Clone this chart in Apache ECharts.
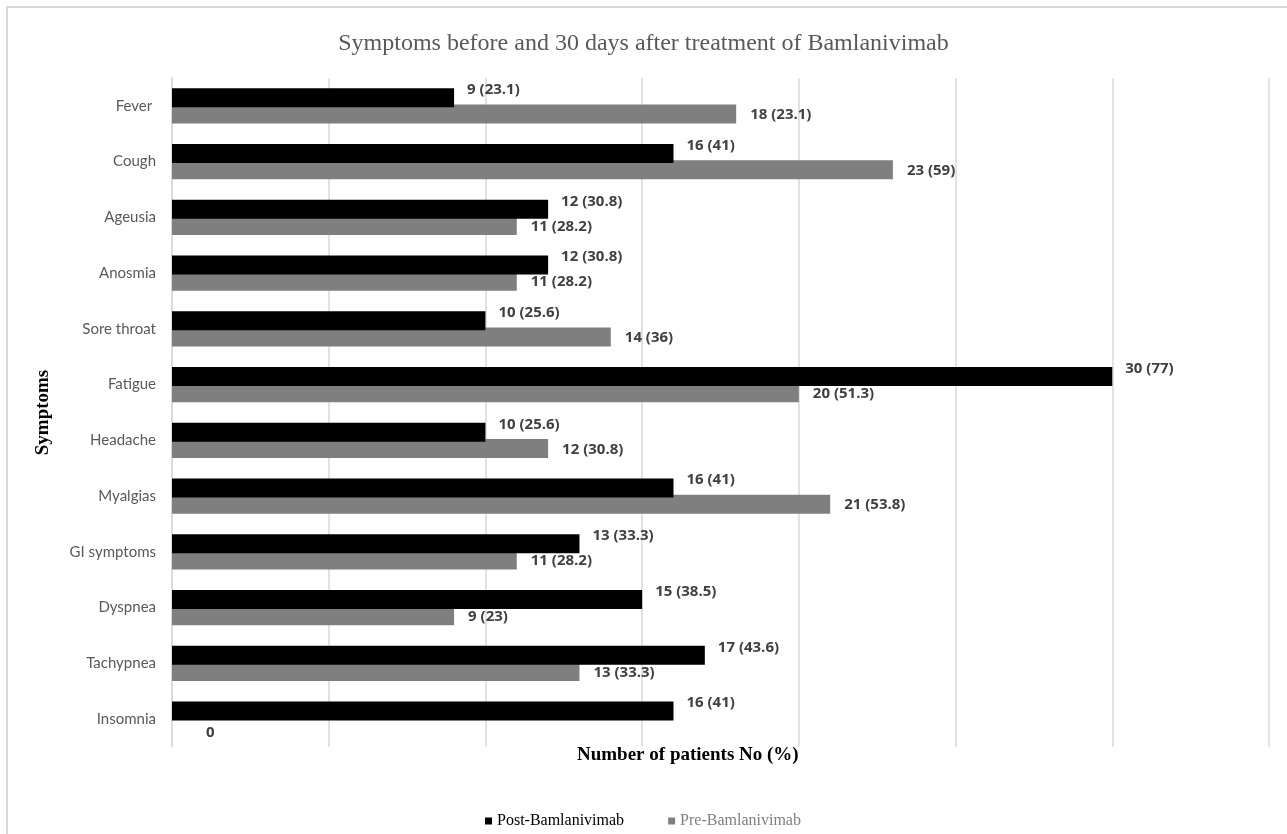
<!DOCTYPE html>
<html>
<head>
<meta charset="utf-8">
<style>
  html, body { margin: 0; padding: 0; background: #ffffff; }
  #chart { width: 1287px; height: 834px; }
</style>
<script src="https://cdn.jsdelivr.net/npm/echarts@6/dist/echarts.min.js"></script>
</head>
<body>
<div id="chart"></div>
<script>
// Symptom categories, top to bottom
const symptoms = ['Fever ', 'Cough', 'Ageusia', 'Anosmia', 'Sore throat', 'Fatigue',
  'Headache', 'Myalgias', 'GI symptoms', 'Dyspnea', 'Tachypnea', 'Insomnia'];

// Patient counts and percentages per group
const postCount = [9, 16, 12, 12, 10, 30, 10, 16, 13, 15, 17, 16];
const postPct = ['23.1', '41', '30.8', '30.8', '25.6', '77', '25.6', '41', '33.3', '38.5', '43.6', '41'];
const preCount = [18, 23, 11, 11, 14, 20, 12, 21, 11, 9, 13, 0];
const prePct = ['23.1', '59', '28.2', '28.2', '36', '51.3', '30.8', '53.8', '28.2', '23', '33.3', null];

// Axis range and tick step
const xMin = 0, xMax = 35, xStep = 5;

function labelText(counts, pcts) {
  return function (p) {
    const pct = pcts[p.dataIndex];
    return pct === null ? String(counts[p.dataIndex]) : counts[p.dataIndex] + ' (' + pct + ')';
  };
}

// A zero-length bar gets its label nudged clear of the axis line
function withZeroLabel(values) {
  return values.map(function (v) {
    return v === 0 ? { value: v, label: { offset: [20, 6] } } : v;
  });
}

const chart = echarts.init(document.getElementById('chart'));

const labelFont = {
  fontFamily: 'Open Sans', fontWeight: 'bold', fontSize: 15, color: '#404040'
};

chart.setOption({
  animation: false,
  backgroundColor: '#ffffff',
  title: [
    {
      text: 'Symptoms before and 30 days after treatment of Bamlanivimab',
      left: 'center', top: 27,
      textStyle: { fontFamily: 'Liberation Serif', fontWeight: 'normal', fontSize: 24, color: '#595959' }
    },
    {
      text: 'Number of patients No (%)',
      left: 572, top: 741,
      textStyle: { fontFamily: 'Liberation Serif', fontWeight: 'bold', fontSize: 19, color: '#000000' }
    }
  ],
  graphic: [
    {
      type: 'rect', silent: true, z: -10,
      shape: { x: 7, y: 7, width: 1300, height: 850 },
      style: { fill: 'none', stroke: '#d9d9d9', lineWidth: 2 }
    }
  ],
  legend: {
    left: 480, top: 808,
    icon: 'rect', itemWidth: 7, itemHeight: 7, itemGap: 44,
    textStyle: { fontFamily: 'Liberation Serif', fontSize: 16 },
    data: [
      { name: 'Post-Bamlanivimab', textStyle: { color: '#000000' } },
      { name: 'Pre-Bamlanivimab', textStyle: { color: '#7f7f7f' } }
    ]
  },
  grid: { left: 172, right: 18, top: 78, bottom: 87, containLabel: false },
  xAxis: {
    type: 'value', min: xMin, max: xMax, interval: xStep,
    axisLine: { show: false }, axisTick: { show: false }, axisLabel: { show: false },
    splitLine: { lineStyle: { color: '#d9d9d9', width: 1.5 } }
  },
  yAxis: {
    type: 'category', data: symptoms, inverse: true,
    name: 'Symptoms', nameLocation: 'middle', nameGap: 119, nameRotate: 90,
    nameTextStyle: { fontFamily: 'Liberation Serif', fontWeight: 'bold', fontSize: 19, color: '#000000' },
    axisLine: { lineStyle: { color: '#d9d9d9', width: 1.5 } },
    axisTick: { length: 6, lineStyle: { color: '#d9d9d9', width: 1.5 } },
    axisLabel: { fontFamily: 'Lato', fontSize: 15, color: '#595959', margin: 16 }
  },
  series: [
    {
      name: 'Post-Bamlanivimab', type: 'bar', data: postCount,
      barWidth: 19, barGap: '-15%', z: 3,
      itemStyle: { color: '#000000' },
      label: Object.assign({ show: true, position: 'right', distance: 13, offset: [0, -8],
        formatter: labelText(postCount, postPct) }, labelFont)
    },
    {
      name: 'Pre-Bamlanivimab', type: 'bar', data: withZeroLabel(preCount),
      barWidth: 19, barGap: '-15%', z: 2,
      itemStyle: { color: '#7f7f7f' },
      label: Object.assign({ show: true, position: 'right', distance: 14, offset: [0, 1],
        formatter: labelText(preCount, prePct) }, labelFont)
    }
  ]
});
</script>
</body>
</html>
